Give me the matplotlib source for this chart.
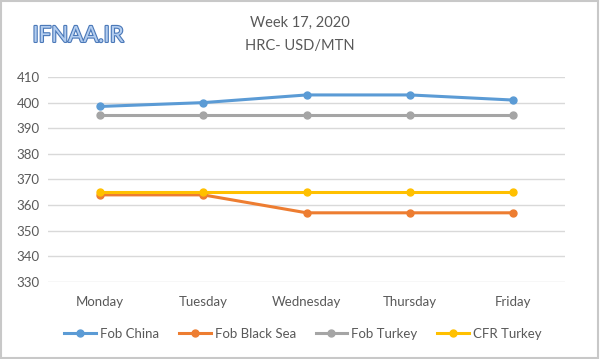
import matplotlib.pyplot as plt
import matplotlib.patheffects as pe
from matplotlib.patches import Rectangle

plt.rcParams['font.family'] = ['Lato', 'DejaVu Sans']

# ---- data ----
days = ["Monday", "Tuesday", "Wednesday", "Thursday", "Friday"]
fob_china = [398.5, 400, 403, 403, 401]
fob_black_sea = [364, 364, 357, 357, 357]
fob_turkey = [395, 395, 395, 395, 395]
cfr_turkey = [365, 365, 365, 365, 365]
y_ticks = [330, 340, 350, 360, 370, 380, 390, 400, 410]

series = [
    ("Fob China", fob_china, "#5b9bd5"),
    ("Fob Black Sea", fob_black_sea, "#ed7d31"),
    ("Fob Turkey", fob_turkey, "#a5a5a5"),
    ("CFR Turkey", cfr_turkey, "#ffc000"),
]

fig = plt.figure(figsize=(6, 3.59), dpi=100)
ax = fig.add_axes([0.08, 0.2145, 0.862, 0.571])

x = list(range(len(days)))
for name, vals, col in series:
    ax.plot(x, vals, '-o', color=col, lw=2.2, ms=5, label=name)

ax.set_xlim(-0.5, 4.5)
ax.set_ylim(330, 410)
ax.set_yticks(y_ticks)
ax.set_xticks(x)
ax.set_xticklabels(days)
ax.grid(axis='y', color='#d9d9d9', lw=1)
ax.set_axisbelow(True)
for s in ax.spines.values():
    s.set_visible(False)
ax.tick_params(length=0, colors='#595959', labelsize=9.5, pad=6)
ax.tick_params(axis='x', pad=10)

fig.text(0.5, 0.935, "Week 17, 2020", ha='center', va='center', fontsize=10.5, color='#595959')
fig.text(0.5, 0.873, "HRC- USD/MTN", ha='center', va='center', fontsize=10.5, color='#595959')

fig.text(0.13, 0.9, "IFNAA.IR", ha='center', va='center', fontsize=16,
         color='#b3cdef', path_effects=[pe.withStroke(linewidth=1.6, foreground='#4a78b8')])

fig.legend(loc='center', bbox_to_anchor=(0.505, 0.07), ncol=4, frameon=False,
           fontsize=9.5, labelcolor='#595959', handlelength=2.4,
           handletextpad=0.3, columnspacing=1.5)

fig.patches.append(Rectangle((0.002, 0.003), 0.995, 0.993, transform=fig.transFigure,
                             fill=False, edgecolor='#c8c8c8', lw=1.5))

fig.savefig("out.png", dpi=100)
